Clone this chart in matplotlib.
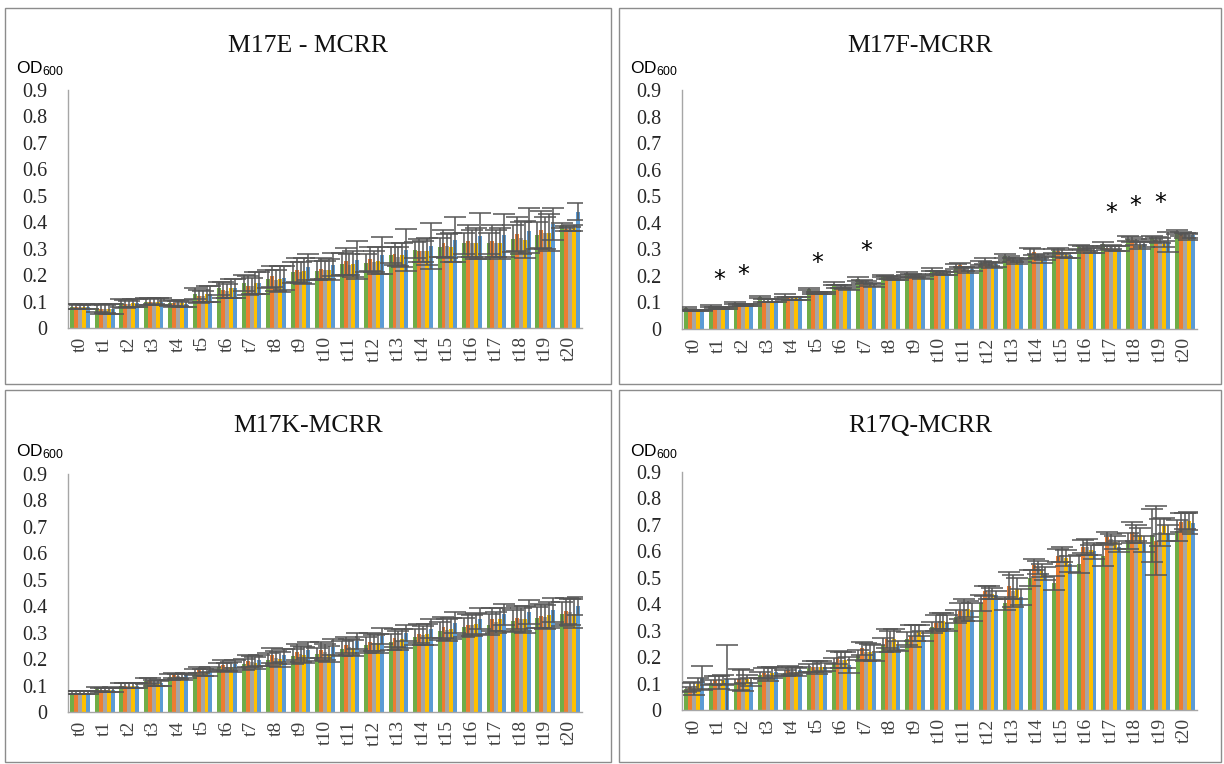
import numpy as np
import matplotlib
matplotlib.use("Agg")
import matplotlib.pyplot as plt
from matplotlib.patches import Rectangle

W, H = 1224, 764

times = [f"t{i}" for i in range(21)]
series_colors = ["#70AD47", "#ED7D31", "#A5A5A5", "#FFC000", "#5B9BD5"]
yticks = [0, 0.1, 0.2, 0.3, 0.4, 0.5, 0.6, 0.7, 0.8, 0.9]
ytick_labels = ["0", "0.1", "0.2", "0.3", "0.4", "0.5", "0.6", "0.7", "0.8", "0.9"]

# ---- M17E - MCRR (rows: green, orange, gray, yellow, blue) ----
m17e_mean = [
    [0.08, 0.075, 0.093, 0.10, 0.093, 0.13, 0.15, 0.17, 0.185, 0.21, 0.217, 0.242, 0.246, 0.275, 0.296, 0.305, 0.32, 0.32, 0.338, 0.35, 0.388],
    [0.08, 0.072, 0.09, 0.10, 0.093, 0.12, 0.145, 0.16, 0.195, 0.22, 0.224, 0.252, 0.262, 0.28, 0.293, 0.32, 0.328, 0.33, 0.356, 0.372, 0.376],
    [0.08, 0.072, 0.09, 0.10, 0.093, 0.12, 0.14, 0.16, 0.18, 0.21, 0.22, 0.24, 0.25, 0.27, 0.29, 0.31, 0.32, 0.32, 0.34, 0.36, 0.375],
    [0.08, 0.072, 0.093, 0.10, 0.093, 0.13, 0.15, 0.17, 0.185, 0.215, 0.22, 0.242, 0.255, 0.275, 0.29, 0.305, 0.32, 0.32, 0.334, 0.36, 0.378],
    [0.08, 0.072, 0.093, 0.10, 0.09, 0.13, 0.15, 0.17, 0.19, 0.23, 0.24, 0.258, 0.275, 0.296, 0.31, 0.334, 0.347, 0.35, 0.368, 0.393, 0.44],
]
m17e_err = [
    [0.010, 0.015, 0.015, 0.012, 0.010, 0.020, 0.025, 0.030, 0.035, 0.040, 0.035, 0.040, 0.035, 0.030, 0.030, 0.035, 0.040, 0.040, 0.050, 0.050, 0.010],
    [0.010, 0.020, 0.015, 0.012, 0.012, 0.025, 0.030, 0.035, 0.040, 0.045, 0.040, 0.050, 0.045, 0.040, 0.045, 0.050, 0.060, 0.060, 0.065, 0.070, 0.010],
    [0.008, 0.015, 0.012, 0.010, 0.010, 0.020, 0.025, 0.030, 0.040, 0.040, 0.035, 0.040, 0.040, 0.035, 0.040, 0.045, 0.050, 0.050, 0.060, 0.060, 0.008],
    [0.010, 0.020, 0.015, 0.012, 0.012, 0.030, 0.035, 0.040, 0.050, 0.050, 0.040, 0.050, 0.050, 0.045, 0.050, 0.055, 0.060, 0.060, 0.070, 0.070, 0.010],
    [0.008, 0.020, 0.015, 0.012, 0.010, 0.030, 0.035, 0.040, 0.045, 0.050, 0.045, 0.072, 0.070, 0.080, 0.086, 0.086, 0.086, 0.082, 0.086, 0.060, 0.032],
]

# ---- M17F-MCRR ----
m17f_mean = [
    [0.08, 0.087, 0.097, 0.12, 0.125, 0.15, 0.17, 0.188, 0.2, 0.208, 0.223, 0.236, 0.248, 0.274, 0.284, 0.294, 0.309, 0.32, 0.34, 0.344, 0.366],
    [0.07, 0.08, 0.09, 0.107, 0.116, 0.135, 0.16, 0.18, 0.194, 0.2, 0.214, 0.24, 0.256, 0.268, 0.29, 0.294, 0.306, 0.306, 0.337, 0.337, 0.357],
    [0.07, 0.08, 0.09, 0.107, 0.116, 0.135, 0.16, 0.175, 0.194, 0.2, 0.214, 0.227, 0.246, 0.26, 0.274, 0.284, 0.303, 0.31, 0.328, 0.332, 0.353],
    [0.07, 0.08, 0.09, 0.107, 0.116, 0.135, 0.158, 0.167, 0.19, 0.197, 0.21, 0.22, 0.24, 0.252, 0.26, 0.277, 0.296, 0.303, 0.315, 0.32, 0.347],
    [0.07, 0.08, 0.09, 0.107, 0.116, 0.135, 0.154, 0.163, 0.188, 0.195, 0.208, 0.227, 0.243, 0.26, 0.268, 0.277, 0.296, 0.303, 0.32, 0.328, 0.353],
]
m17f_err = [
    [0.003, 0.004, 0.004, 0.005, 0.005, 0.005, 0.006, 0.006, 0.005, 0.006, 0.006, 0.010, 0.008, 0.008, 0.020, 0.008, 0.006, 0.006, 0.010, 0.006, 0.008],
    [0.003, 0.004, 0.004, 0.005, 0.005, 0.005, 0.006, 0.006, 0.005, 0.006, 0.006, 0.008, 0.012, 0.008, 0.010, 0.010, 0.008, 0.008, 0.010, 0.008, 0.008],
    [0.003, 0.004, 0.004, 0.005, 0.005, 0.005, 0.006, 0.006, 0.005, 0.006, 0.006, 0.008, 0.008, 0.008, 0.008, 0.012, 0.008, 0.008, 0.012, 0.010, 0.010],
    [0.003, 0.004, 0.004, 0.005, 0.005, 0.005, 0.006, 0.006, 0.005, 0.006, 0.006, 0.008, 0.010, 0.008, 0.010, 0.010, 0.008, 0.010, 0.012, 0.012, 0.012],
    [0.003, 0.004, 0.004, 0.005, 0.005, 0.005, 0.006, 0.006, 0.005, 0.006, 0.006, 0.008, 0.010, 0.008, 0.008, 0.010, 0.008, 0.010, 0.012, 0.038, 0.010],
]
m17f_star_times = [1, 2, 5, 7, 17, 18, 19]
m17f_star_heights = [0.185, 0.205, 0.25, 0.295, 0.435, 0.465, 0.475]

# ---- M17K-MCRR ----
m17k_mean = [
    [0.073, 0.088, 0.1, 0.117, 0.132, 0.151, 0.17, 0.18, 0.198, 0.21, 0.218, 0.24, 0.252, 0.265, 0.284, 0.306, 0.32, 0.33, 0.344, 0.357, 0.372],
    [0.073, 0.082, 0.1, 0.12, 0.139, 0.158, 0.177, 0.193, 0.214, 0.227, 0.236, 0.252, 0.265, 0.28, 0.296, 0.32, 0.33, 0.35, 0.357, 0.362, 0.382],
    [0.073, 0.082, 0.1, 0.11, 0.135, 0.15, 0.17, 0.19, 0.205, 0.22, 0.227, 0.246, 0.26, 0.27, 0.29, 0.31, 0.328, 0.34, 0.35, 0.36, 0.378],
    [0.073, 0.082, 0.1, 0.107, 0.132, 0.15, 0.17, 0.185, 0.2, 0.214, 0.22, 0.243, 0.26, 0.277, 0.294, 0.315, 0.334, 0.35, 0.35, 0.366, 0.372],
    [0.073, 0.085, 0.1, 0.11, 0.139, 0.16, 0.18, 0.195, 0.214, 0.233, 0.246, 0.27, 0.286, 0.3, 0.315, 0.337, 0.353, 0.37, 0.378, 0.387, 0.4],
]
m17k_err = [
    [0.005, 0.008, 0.008, 0.010, 0.010, 0.010, 0.015, 0.020, 0.025, 0.030, 0.025, 0.030, 0.030, 0.030, 0.030, 0.035, 0.035, 0.040, 0.040, 0.040, 0.045],
    [0.005, 0.008, 0.008, 0.010, 0.010, 0.012, 0.018, 0.022, 0.028, 0.030, 0.030, 0.030, 0.035, 0.035, 0.035, 0.040, 0.040, 0.045, 0.045, 0.045, 0.050],
    [0.005, 0.008, 0.008, 0.010, 0.010, 0.012, 0.015, 0.020, 0.025, 0.030, 0.030, 0.030, 0.030, 0.035, 0.035, 0.040, 0.040, 0.040, 0.045, 0.045, 0.050],
    [0.005, 0.008, 0.008, 0.010, 0.010, 0.012, 0.018, 0.022, 0.028, 0.030, 0.030, 0.030, 0.035, 0.035, 0.040, 0.040, 0.040, 0.045, 0.050, 0.050, 0.055],
    [0.005, 0.008, 0.008, 0.010, 0.010, 0.010, 0.015, 0.020, 0.025, 0.030, 0.030, 0.030, 0.030, 0.030, 0.035, 0.040, 0.040, 0.040, 0.045, 0.045, 0.035],
]

# ---- R17Q-MCRR ----
r17q_mean = [
    [0.078, 0.103, 0.107, 0.132, 0.141, 0.158, 0.177, 0.208, 0.246, 0.269, 0.313, 0.353, 0.404, 0.404, 0.5, 0.48, 0.552, 0.584, 0.64, 0.66, 0.678],
    [0.088, 0.113, 0.116, 0.139, 0.151, 0.164, 0.2, 0.233, 0.27, 0.28, 0.33, 0.376, 0.45, 0.47, 0.55, 0.584, 0.618, 0.653, 0.672, 0.64, 0.71],
    [0.082, 0.103, 0.113, 0.136, 0.149, 0.161, 0.19, 0.22, 0.26, 0.29, 0.338, 0.378, 0.445, 0.45, 0.54, 0.588, 0.615, 0.647, 0.668, 0.672, 0.716],
    [0.1, 0.113, 0.116, 0.141, 0.145, 0.164, 0.19, 0.22, 0.267, 0.3, 0.335, 0.382, 0.44, 0.458, 0.527, 0.575, 0.605, 0.634, 0.66, 0.697, 0.714],
    [0.12, 0.116, 0.107, 0.145, 0.151, 0.161, 0.17, 0.214, 0.242, 0.28, 0.328, 0.37, 0.436, 0.426, 0.517, 0.552, 0.6, 0.618, 0.628, 0.668, 0.706],
]
r17q_err = [
    [0.010, 0.010, 0.010, 0.012, 0.012, 0.015, 0.020, 0.020, 0.025, 0.025, 0.020, 0.025, 0.030, 0.025, 0.030, 0.025, 0.035, 0.040, 0.030, 0.100, 0.040],
    [0.015, 0.015, 0.040, 0.020, 0.015, 0.020, 0.025, 0.025, 0.035, 0.040, 0.030, 0.030, 0.020, 0.050, 0.020, 0.025, 0.025, 0.020, 0.040, 0.130, 0.035],
    [0.025, 0.025, 0.040, 0.025, 0.015, 0.025, 0.030, 0.035, 0.040, 0.030, 0.030, 0.040, 0.025, 0.060, 0.025, 0.030, 0.030, 0.020, 0.030, 0.050, 0.030],
    [0.020, 0.020, 0.015, 0.020, 0.015, 0.020, 0.030, 0.030, 0.040, 0.020, 0.030, 0.030, 0.020, 0.040, 0.025, 0.030, 0.020, 0.025, 0.030, 0.030, 0.035],
    [0.046, 0.130, 0.015, 0.015, 0.012, 0.015, 0.030, 0.030, 0.020, 0.020, 0.030, 0.035, 0.015, 0.030, 0.025, 0.030, 0.030, 0.020, 0.030, 0.030, 0.040],
]

SERIF = "Liberation Serif"
SANS = "Liberation Sans"


def frac_rect(x0, y0, x1, y1):
    return [x0 / W, 1 - y1 / H, (x1 - x0) / W, (y1 - y0) / H]


def draw_panel(fig, box, axes_px, title, title_xy, od_xy, means, errs):
    # panel frame
    bx0, by0, bx1, by1 = box
    fig.patches.append(Rectangle((bx0 / W, 1 - by1 / H), (bx1 - bx0) / W, (by1 - by0) / H,
                                 transform=fig.transFigure, fill=False,
                                 edgecolor="#8C8C8C", linewidth=1.0))
    ax = fig.add_axes(frac_rect(*axes_px))
    x = np.arange(len(times))
    n = len(means)
    bw = 0.16
    for i in range(n):
        pos = x + (i - (n - 1) / 2) * bw
        ax.bar(pos, means[i], width=bw, color=series_colors[i], zorder=2)
        ax.errorbar(pos, means[i], yerr=errs[i], fmt="none", ecolor="#555555",
                    elinewidth=1.1, capsize=8, capthick=1.1, zorder=3)
    ax.set_xlim(-0.5, len(times) - 0.5)
    ax.set_ylim(0, 0.9)
    ax.set_yticks(yticks)
    ax.set_yticklabels(ytick_labels, fontfamily=SERIF, fontsize=14.5)
    ax.set_xticks(x)
    ax.set_xticklabels(times, rotation=90, fontfamily=SERIF, fontsize=14, color="#404040")
    ax.tick_params(axis="both", length=0)
    ax.tick_params(axis="y", pad=15, colors="#262626")
    ax.tick_params(axis="x", pad=6)
    for s in ("top", "right"):
        ax.spines[s].set_visible(False)
    for s in ("left", "bottom"):
        ax.spines[s].set_color("#A6A6A6")
        ax.spines[s].set_linewidth(1.0)
    ax.patch.set_alpha(0)
    fig.text(title_xy[0] / W, 1 - title_xy[1] / H, title, ha="center", va="baseline",
             fontfamily=SERIF, fontsize=18.5, color="#111111")
    fig.text(od_xy[0] / W, 1 - od_xy[1] / H, r"$\mathregular{OD_{600}}$", ha="left",
             va="baseline", fontfamily=SANS, fontsize=12.5, color="#000000")
    return ax


fig = plt.figure(figsize=(W / 100, H / 100), dpi=100)

draw_panel(fig, (5, 8, 611, 384), (68, 90, 582, 328), "M17E - MCRR", (308, 52), (16, 73),
           m17e_mean, m17e_err)
ax2 = draw_panel(fig, (619, 8, 1221, 384), (682, 90, 1197, 329), "M17F-MCRR", (920, 52), (630, 73),
                 m17f_mean, m17f_err)
draw_panel(fig, (5, 390, 611, 762), (68, 474, 582, 712), "M17K-MCRR", (308, 432), (16, 456),
           m17k_mean, m17k_err)
draw_panel(fig, (619, 390, 1221, 762), (682, 472, 1197, 710), "R17Q-MCRR", (920, 432), (630, 456),
           r17q_mean, r17q_err)

# significance marks on M17F
for t, h in zip(m17f_star_times, m17f_star_heights):
    ax2.text(t, h, "*", ha="center", va="center", fontfamily="DejaVu Sans",
             fontsize=17, color="#000000")

fig.savefig("out.png", dpi=100)
